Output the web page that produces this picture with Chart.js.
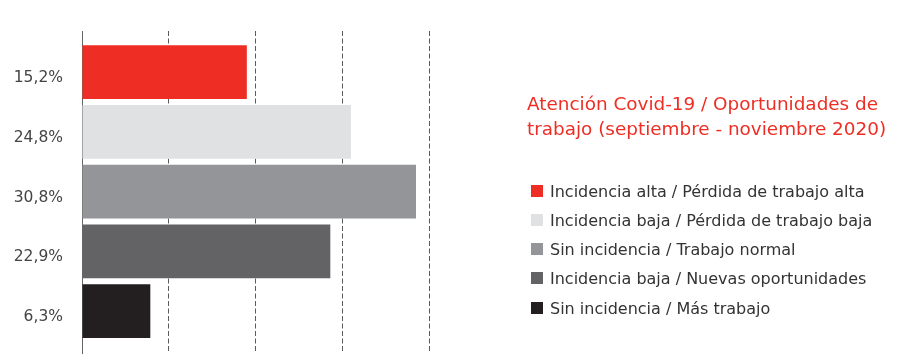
<!DOCTYPE html>
<html lang="es">
<head>
<meta charset="utf-8">
<title>Atención Covid-19 / Oportunidades de trabajo</title>
<script src="https://cdn.jsdelivr.net/npm/chart.js@4/dist/chart.umd.min.js"></script>
<style>
  html, body { margin: 0; padding: 0; background: #ffffff; }
  #wrap { width: 913px; height: 364px; }
</style>
</head>
<body>
<div id="wrap"><canvas id="chart" width="913" height="364"></canvas></div>
<script>
// Categories (legend entries), in the order the bars are stacked top to bottom
const categories = [
  'Incidencia alta / Pérdida de trabajo alta',
  'Incidencia baja / Pérdida de trabajo baja',
  'Sin incidencia / Trabajo normal',
  'Incidencia baja / Nuevas oportunidades',
  'Sin incidencia / Más trabajo'
];

// Share of each category, in percent
const shares = [15.2, 24.8, 30.8, 22.9, 6.3];

// Bar / legend swatch colours
const colors = ['#ee2e24', '#e0e1e3', '#949598', '#636365', '#231f20'];

// Heading shown above the legend
const titleLines = [
  'Atención Covid-19 / Oportunidades de',
  'trabajo (septiembre - noviembre 2020)'
];

// Value axis range and gridline step
const xMax = 32;
const xStep = 8;

// Percent labels on the category axis, Spanish decimal comma
const shareLabels = shares.map(v => v.toFixed(1).replace('.', ',') + '%');

const FONT = '"DejaVu Sans", "Noto Sans", sans-serif';

// Draws the heading and the category key on the right-hand side
const sideLegend = {
  id: 'sideLegend',
  afterDraw(chart) {
    const ctx = chart.ctx;
    ctx.save();
    ctx.textAlign = 'left';
    ctx.textBaseline = 'alphabetic';

    ctx.fillStyle = '#ee2e24';
    ctx.font = '18.4px ' + FONT;
    titleLines.forEach((line, i) => ctx.fillText(line, 527, 110 + i * 25));

    ctx.font = '16px ' + FONT;
    categories.forEach((name, i) => {
      const top = Math.round(184.5 + i * 29.3);
      ctx.fillStyle = colors[i];
      ctx.fillRect(531, top, 12, 12);
      ctx.fillStyle = '#333333';
      ctx.fillText(name, 550, top + 11.5);
    });
    ctx.restore();
  }
};

new Chart(document.getElementById('chart'), {
  type: 'bar',
  data: {
    datasets: [{
      data: shares.map((v, i) => ({ x: v, y: i })),
      backgroundColor: colors,
      borderWidth: 0,
      categoryPercentage: 1,
      barPercentage: 0.9
    }]
  },
  options: {
    indexAxis: 'y',
    responsive: false,
    animation: false,
    layout: { padding: { top: 31, bottom: 11, left: 0, right: 484 } },
    plugins: {
      legend: { display: false },
      tooltip: { enabled: false },
      title: { display: false }
    },
    scales: {
      x: {
        type: 'linear',
        min: 0,
        max: xMax,
        offset: false,
        afterFit(scale) { scale.height = 0; },
        ticks: { display: false, stepSize: xStep },
        grid: {
          drawTicks: false,
          offset: false,
          lineWidth: 1,
          color: (c) => (c.tick && c.tick.value === 0) ? 'rgba(0,0,0,0)' : '#5a5a5a'
        },
        border: { display: false, dash: [5, 2.5] }
      },
      y: {
        type: 'linear',
        reverse: true,
        offset: false,
        min: -0.69,
        max: 4.7,
        afterBuildTicks(scale) {
          scale.ticks = shares.map((_, i) => ({ value: i }));
        },
        // fixed label column; labels sit well inside the plot, so no edge padding
        afterFit(scale) {
          scale.width = 82;
          scale.paddingTop = 0;
          scale.paddingBottom = 0;
        },
        ticks: {
          padding: 19,
          labelOffset: 6,
          color: '#444444',
          font: { family: FONT, size: 15.5 },
          callback: (v) => shareLabels[v] ?? ''
        },
        grid: { display: false, drawTicks: false, offset: false },
        border: { display: true, color: '#666666', width: 1 }
      }
    }
  },
  plugins: [sideLegend]
});
</script>
</body>
</html>
